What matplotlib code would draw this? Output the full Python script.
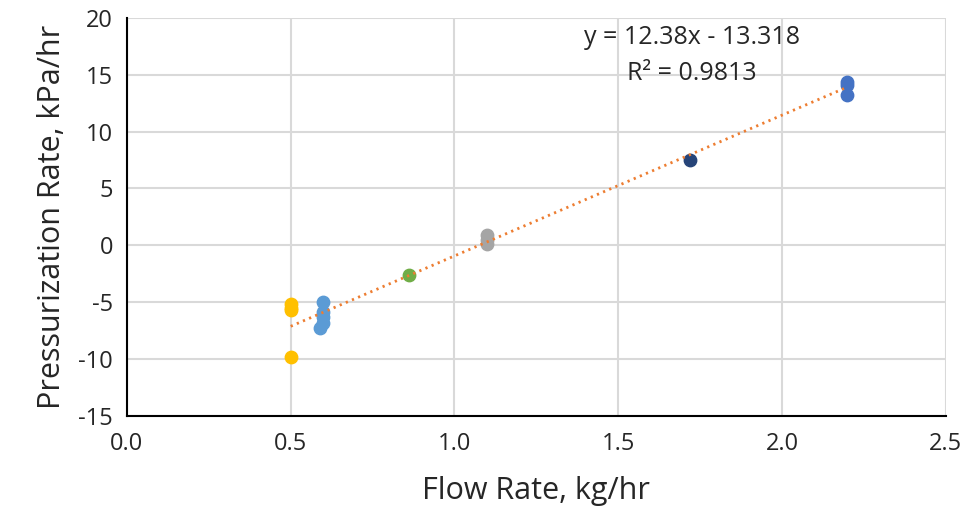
import numpy as np
import matplotlib.pyplot as plt

plt.rcParams['font.family'] = ['Open Sans', 'DejaVu Sans']
plt.rcParams['axes.unicode_minus'] = False

# data groups
x_yellow = [0.5, 0.5, 0.5, 0.5]
y_yellow = [-5.2, -5.5, -5.7, -9.8]
x_lblue = [0.6, 0.6, 0.6, 0.6, 0.59]
y_lblue = [-5.0, -5.9, -6.3, -6.8, -7.3]
x_green = [0.86]
y_green = [-2.6]
x_gray = [1.1, 1.1, 1.1]
y_gray = [0.9, 0.5, 0.1]
x_dblue = [1.72]
y_dblue = [7.5]
x_blue = [2.2, 2.2, 2.2]
y_blue = [14.4, 14.1, 13.2]

slope = 12.38
intercept = -13.318
r2 = 0.9813

fig = plt.figure(figsize=(9.69, 5.25), dpi=100)
ax = fig.add_axes([0.131, 0.208, 0.845, 0.758])

ms = 80
ax.scatter(x_yellow, y_yellow, s=ms, color='#FFC000', zorder=3)
ax.scatter(x_lblue, y_lblue, s=ms, color='#5B9BD5', zorder=3)
ax.scatter(x_green, y_green, s=ms, color='#70AD47', zorder=3)
ax.scatter(x_gray, y_gray, s=ms, color='#A5A5A5', zorder=3)
ax.scatter(x_dblue, y_dblue, s=ms, color='#264478', zorder=3)
ax.scatter(x_blue, y_blue, s=ms, color='#4472C4', zorder=3)

xt = np.array([0.5, 2.2])
ax.plot(xt, slope * xt + intercept, color='#ED7D31', lw=2, ls=(0, (0.8, 1.6)), zorder=4)

ax.text(0.69, 0.95, 'y = 12.38x - 13.318', transform=ax.transAxes, ha='center', va='center',
        fontsize=18, color='#262626')
ax.text(0.69, 0.86, 'R² = ' + str(r2), transform=ax.transAxes, ha='center', va='center',
        fontsize=18, color='#262626')

ax.set_xlim(0, 2.5)
ax.set_ylim(-15, 20)
ax.set_xticks(np.arange(0, 2.51, 0.5))
ax.set_xticklabels(['0.0', '0.5', '1.0', '1.5', '2.0', '2.5'])
ax.set_yticks(np.arange(-15, 21, 5))
ax.grid(True, color='#D9D9D9', lw=1.5)
ax.set_axisbelow(True)
for s in ['top', 'right']:
    ax.spines[s].set_visible(False)
ax.spines['left'].set_linewidth(1.5)
ax.spines['bottom'].set_linewidth(1.5)
ax.tick_params(length=0, labelsize=17, colors='#262626', pad=10)
ax.tick_params(axis='x', pad=12)
ax.set_xlabel('Flow Rate, kg/hr', fontsize=22, color='#262626', labelpad=14)
ax.set_ylabel('Pressurization Rate, kPa/hr', fontsize=22, color='#262626', labelpad=8)

fig.savefig('out.png', dpi=100)
